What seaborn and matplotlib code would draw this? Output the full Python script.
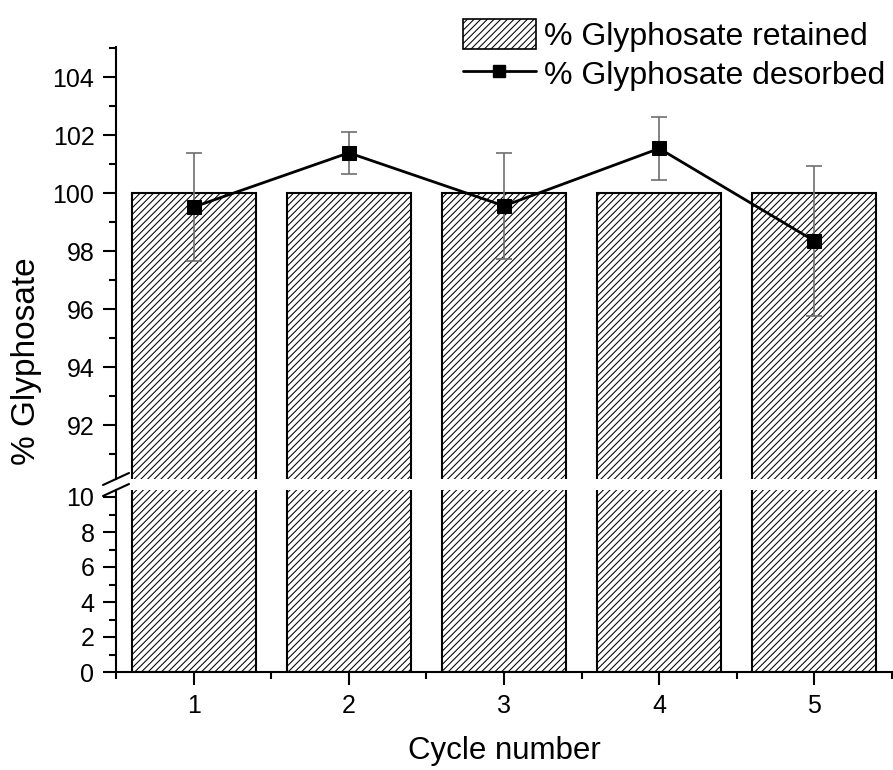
import numpy as np
import pandas as pd
import seaborn as sns
import matplotlib
matplotlib.use("Agg")
from matplotlib import pyplot as plt
from matplotlib.patches import Patch
from matplotlib.lines import Line2D
from matplotlib.ticker import MultipleLocator

# ----------------------------------------------------------------------------------------------------------------------
#   Dados
# ----------------------------------------------------------------------------------------------------------------------
cycles = [1, 2, 3, 4, 5]
retained = [100, 100, 100, 100, 100]
desorbed = [99.53, 101.40, 99.57, 101.55, 98.36]
desorbed_err = [1.85, 0.72, 1.83, 1.08, 2.60]

label_retained = "% Glyphosate retained"
label_desorbed = "% Glyphosate desorbed"

df = pd.DataFrame({"cycle": cycles, "retained": retained, "desorbed": desorbed, "err": desorbed_err})

# ----------------------------------------------------------------------------------------------------------------------
#   Estilo
# ----------------------------------------------------------------------------------------------------------------------
sns.set_style("ticks")
plt.rcParams["font.family"] = ["Liberation Sans", "DejaVu Sans"]
plt.rcParams["hatch.linewidth"] = 0.75
for key in ("text.color", "axes.labelcolor", "xtick.color", "ytick.color", "axes.edgecolor"):
    plt.rcParams[key] = "black"

fig = plt.figure(figsize=(8.93, 7.70), dpi=100)
left, width = 116 / 893, 776 / 893
ax_top = fig.add_axes([left, 1 - 479 / 770, width, 432 / 770])
ax_bot = fig.add_axes([left, 1 - 672 / 770, width, 182 / 770])

hatch = "/////"
bar_kw = dict(color="white", edgecolor="black", linewidth=1.5, hatch=hatch, errorbar=None, native_scale=True)

for ax in (ax_top, ax_bot):
    sns.barplot(data=df, x="cycle", y="retained", ax=ax, **bar_kw)
    ax.set_xlim(0.5, 5.5)
    ax.set_xlabel("")
    ax.set_ylabel("")
    for sp in ("top", "right"):
        ax.spines[sp].set_visible(False)
    ax.spines["left"].set_linewidth(1.5)
    ax.spines["bottom"].set_linewidth(1.5)
    ax.tick_params(axis="both", which="major", length=9.5, width=1.5, labelsize=18, pad=6)
    ax.tick_params(axis="both", which="minor", length=5, width=1.5)

# Parte de cima (90 - 105)
ax_top.set_ylim(90.15, 105.05)
ax_top.set_yticks([92, 94, 96, 98, 100, 102, 104])
ax_top.yaxis.set_minor_locator(MultipleLocator(1))
ax_top.spines["bottom"].set_visible(False)
ax_top.tick_params(axis="x", which="both", bottom=False, labelbottom=False)

ax_top.errorbar(df["cycle"], df["desorbed"], yerr=df["err"], fmt="none", ecolor="#6e6e6e",
                elinewidth=1.2, capsize=6, capthick=1.2, zorder=3)
sns.lineplot(data=df, x="cycle", y="desorbed", ax=ax_top, color="black", linewidth=2,
             marker="s", markersize=9.5, markeredgecolor="black", zorder=4)
ax_top.set_xlim(0.5, 5.5)
ax_top.set_xlabel("")
ax_top.set_ylabel("")

# Parte de baixo (0 - 10)
ax_bot.set_ylim(0, 10.4)
ax_bot.set_yticks([0, 2, 4, 6, 8, 10])
ax_bot.yaxis.set_minor_locator(MultipleLocator(1))
ax_bot.set_xticks(cycles)
ax_bot.set_xticklabels([str(c) for c in cycles])
ax_bot.xaxis.set_minor_locator(MultipleLocator(0.5))
ax_bot.set_xlabel("Cycle number", fontsize=22.5, labelpad=13)

# Marcas de quebra do eixo
dx = 13 / 776
for ax, h in ((ax_top, 432), (ax_bot, 182)):
    y0 = 0 if ax is ax_top else 1
    dy = 6 / h
    ax.plot([-dx, dx], [y0 - dy, y0 + dy], transform=ax.transAxes, color="black",
            linewidth=1.5, clip_on=False)

fig.text(0.030, 1 - 361 / 770, "% Glyphosate", rotation=90, ha="center", va="center", fontsize=24)

handles = [
    Patch(facecolor="white", edgecolor="black", hatch=hatch, linewidth=1.2, label=label_retained),
    Line2D([], [], color="black", linewidth=2, marker="s", markersize=8, label=label_desorbed),
]
fig.legend(handles=handles, loc="upper right", bbox_to_anchor=(1.011, 0.998), frameon=False,
           fontsize=23, handlelength=2.3, handleheight=1.05, handletextpad=0.25, labelspacing=0.2,
           borderaxespad=0.15)

fig.savefig("out.png", dpi=100)
